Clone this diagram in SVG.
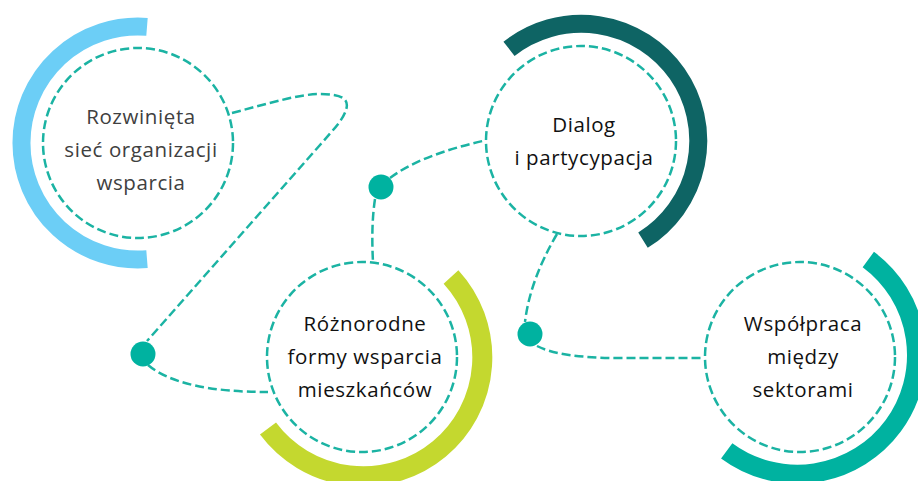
<svg xmlns="http://www.w3.org/2000/svg" width="918" height="481" viewBox="0 0 918 481">
<style>
.ring{fill:#fff;stroke:#1BB3A3;stroke-width:2.5;stroke-dasharray:9 4}
.arc{fill:none;stroke-linecap:butt}
.conn{fill:none;stroke:#1BB3A3;stroke-width:2.5;stroke-dasharray:9 4}
.dot{fill:#00B2A0}
.lbl{font-family:"Open Sans","Liberation Sans",sans-serif;font-size:20.5px;letter-spacing:0.6px;text-anchor:middle;fill:#111}
.gray{fill:#404040}
</style>
<rect width="918" height="481" fill="#fff"/>
<g id="connectors">
<path class="conn" d="M232,113 C270,103 300,94 320,94 C340,94 350,98 346,110 C343,120 333,130 320,145 L147,341"/>
<path class="conn" d="M148,365 Q180,392 268,392"/>
<path class="conn" d="M390,178 Q420,155 487,140"/>
<path class="conn" d="M375,199 Q371,225 373,262"/>
<path class="conn" d="M557,234 Q530,280 525,322"/>
<path class="conn" d="M537,346 Q560,358 620,358 L704,358"/>
<circle class="dot" cx="143" cy="354" r="12.5"/>
<circle class="dot" cx="381" cy="187" r="12.5"/>
<circle class="dot" cx="530" cy="334" r="12.5"/>
</g>
<g id="node-rozwinieta">
<path class="arc" stroke="#6CCEF6" stroke-width="18" d="M147,26.85 A116.5,116.5 0 1 0 147,259.15"/>
<circle class="ring" cx="138" cy="143" r="95"/>
<text class="lbl gray" x="141" y="124">Rozwinięta</text>
<text class="lbl gray" x="141" y="157">sieć organizacji</text>
<text class="lbl gray" x="141" y="190">wsparcia</text>
</g>
<g id="node-dialog">
<path class="arc" stroke="#0E6464" stroke-width="18" d="M509,48.8 A117,117 0 1 1 643,240.2"/>
<circle class="ring" cx="581" cy="141" r="95"/>
<text class="lbl" x="584" y="132">Dialog</text>
<text class="lbl" x="584" y="165">i partycypacja</text>
</g>
<g id="node-roznorodne">
<path class="arc" stroke="#C4D82F" stroke-width="20" d="M451,276.9 A119,119 0 1 1 268,428.6"/>
<circle class="ring" cx="362" cy="357" r="95"/>
<text class="lbl" x="365" y="331">Różnorodne</text>
<text class="lbl" x="365" y="364">formy wsparcia</text>
<text class="lbl" x="365" y="397">mieszkańców</text>
</g>
<g id="node-wspolpraca">
<path class="arc" stroke="#00B2A0" stroke-width="19" d="M868.3,259.5 A119,119 0 1 1 726.7,450.8"/>
<circle class="ring" cx="800" cy="357" r="95"/>
<text class="lbl" x="803" y="331">Współpraca</text>
<text class="lbl" x="803" y="364">między</text>
<text class="lbl" x="803" y="397">sektorami</text>
</g>
</svg>
